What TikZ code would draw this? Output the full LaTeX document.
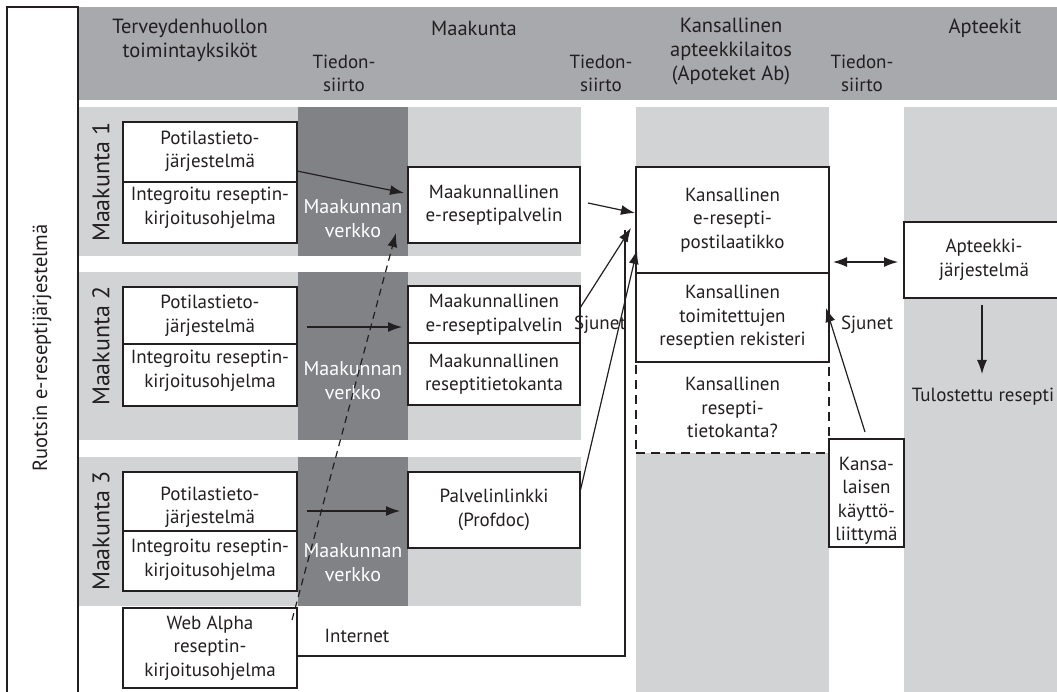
\documentclass[tikz,border=0pt]{standalone}
\usepackage{fontspec}
\setmainfont{PT Sans}
\usetikzlibrary{arrows.meta,calc}
\definecolor{hdr}{HTML}{A7A9AC}
\definecolor{lgray}{HTML}{D1D3D4}
\definecolor{dgray}{HTML}{808285}
\definecolor{ink}{HTML}{231F20}
\newcommand{\bodyf}{\fontsize{19}{23.5}\selectfont}
\newcommand{\headf}{\fontsize{20.5}{24}\selectfont}
\newcommand{\netf}{\fontsize{20}{24}\selectfont}
\newcommand{\bigrotf}{\fontsize{24}{28}\selectfont}
\newcommand{\titlef}{\fontsize{20.5}{24}\selectfont}
\begin{document}
\begin{tikzpicture}[x=1pt,y=-1pt,
  every node/.style={text=ink, inner sep=0pt, align=center, font=\bodyf},
  boxn/.style={draw=ink, fill=white, line width=1.2pt},
  dbox/.style={draw=ink, fill=white, line width=1.2pt, dash pattern=on 9pt off 6pt},
  conn/.style={draw=ink, line width=1.2pt},
  arr/.style={conn, -{Latex[length=14pt,width=10pt]}},
  dblarr/.style={conn, {Latex[length=14pt,width=10pt]}-{Latex[length=14pt,width=10pt]}},
  darr/.style={conn, dash pattern=on 7pt off 5pt, -{Latex[length=14pt,width=10pt]}},
  hdrtxt/.style={font=\headf},
  nettxt/.style={text=white, font=\netf},
  rottxt/.style={rotate=90, font=\bigrotf},
]
\useasboundingbox (0,0) rectangle (1057,692);
\begin{scope}
\clip (0,0) rectangle (1057,692);
% backgrounds
\fill[hdr] (78,7) rectangle (1057,100);
\fill[lgray] (78,107) rectangle (581,256);
\fill[lgray] (78,272) rectangle (581,440);
\fill[lgray] (78,457) rectangle (581,606);
\fill[dgray] (298,107) rectangle (408,256);
\fill[dgray] (298,272) rectangle (408,440);
\fill[dgray] (298,457) rectangle (408,606);
\fill[lgray] (636,107) rectangle (829,700);
\fill[lgray] (904,107) rectangle (1060,700);
\draw[ink, line width=1.2pt] (7,700) -- (7,7) -- (78,7) -- (78,700);

% header texts
\node[hdrtxt] (h1) at (190,40) {Terveydenhuollon\\toimintayksiköt};
\node[hdrtxt] (h2) at (474,28) {Maakunta};
\node (t1) at (344,73.5) {Tiedon-\\siirto};
\node (t2) at (601,73.5) {Tiedon-\\siirto};
\node[hdrtxt] (h3) at (731,52) {Kansallinen\\apteekkilaitos\\(Apoteket Ab)};
\node (t3) at (862,73.5) {Tiedon-\\siirto};
\node[hdrtxt] (h4) at (985,28) {Apteekit};

% left titles
\node[rotate=90, font=\titlef] (sys) at (42,348) {Ruotsin e-reseptijärjestelmä};
\node[rottxt] (m1) at (101,182) {Maakunta 1};
\node[rottxt] (m2) at (101,346) {Maakunta 2};
\node[rottxt] (m3) at (101,531) {Maakunta 3};

% network labels
\node[nettxt] (n1) at (353,219) {Maakunnan\\verkko};
\node[nettxt] (n2) at (353,381) {Maakunnan\\verkko};
\node[nettxt] (n3) at (353,563) {Maakunnan\\verkko};

% left boxes
\node[boxn, minimum width=174pt, minimum height=121pt] (pa1) at (210,182.5) {};
\draw[conn] (123,182) -- (297,182);
\node (pa1t) at (210,151.5) {Potilastieto-\\järjestelmä};
\node (pa1b) at (210,208) {Integroitu reseptin-\\kirjoitusohjelma};

\node[boxn, minimum width=174pt, minimum height=119pt] (pa2) at (210,346.5) {};
\draw[conn] (123,344) -- (297,344);
\node (pa2t) at (210,316) {Potilastieto-\\järjestelmä};
\node (pa2b) at (210,371) {Integroitu reseptin-\\kirjoitusohjelma};

\node[boxn, minimum width=174pt, minimum height=119pt] (pa3) at (210,531.5) {};
\draw[conn] (123,531) -- (297,531);
\node (pa3t) at (210,507.5) {Potilastieto-\\järjestelmä};
\node (pa3b) at (210,560) {Integroitu reseptin-\\kirjoitusohjelma};

\node[boxn, minimum width=174pt, minimum height=80pt] (web) at (210,648) {Web Alpha\\reseptin-\\kirjoitusohjelma};

% county servers
\node[boxn, minimum width=172pt, minimum height=76pt] (ms1) at (494,205) {Maakunnallinen\\e-reseptipalvelin};
\node[boxn, minimum width=172pt, minimum height=57pt] (ms2) at (494,314.5) {Maakunnallinen\\e-reseptipalvelin};
\node[boxn, minimum width=172pt, minimum height=62pt] (mdb2) at (494,374) {Maakunnallinen\\reseptitietokanta};
\node[boxn, minimum width=172pt, minimum height=76pt] (pl3) at (494,510) {Palvelinlinkki\\(Profdoc)};

% national
\node[boxn, minimum width=193pt, minimum height=106pt] (post) at (732.5,220) {Kansallinen\\e-resepti-\\postilaatikko};
\node[dbox, minimum width=193pt, minimum height=91pt] (tk) at (732.5,407.5) {Kansallinen\\resepti-\\tietokanta?};
\node[boxn, minimum width=193pt, minimum height=89pt] (rek) at (732.5,317.5) {Kansallinen\\toimitettujen\\reseptien rekisteri};

% pharmacies
\node[boxn, minimum width=160pt, minimum height=76pt, text width=150pt] (apt) at (984,260) {Apteekki-\\järjestelmä};
\node[boxn, minimum width=75pt, minimum height=108pt] (kl) at (866.5,493) {};
\node (klt) at (866.5,501) {Kansa-\\laisen\\käyttö-\\liittymä};
\node (tr) at (983,397) {Tulostettu resepti};

% labels
\node (inet) at (357,636) {Internet};
\node (sj1) at (600,325) {Sjunet};
\node (sj2) at (867,325) {Sjunet};

% connector end coordinates
\coordinate (a1s) at (297,171);
\coordinate (a1e) at (404,193);
\coordinate (a2s) at (307,327);
\coordinate (a2e) at (402,327);
\coordinate (a3s) at (307,511);
\coordinate (a3e) at (400,511);
\coordinate (ds) at (292,620);
\coordinate (de) at (396,233);
\coordinate (b1s) at (588,203);
\coordinate (b1e) at (635,213);
\coordinate (b2s) at (580,308);
\coordinate (b2e) at (631,228);
\coordinate (b3s) at (580,492);
\coordinate (b3e) at (637,250);
\coordinate (is) at (297,656);
\coordinate (ie) at (625,230);
\coordinate (dbs) at (833,262);
\coordinate (dbe) at (898,262);
\coordinate (dns) at (982,305);
\coordinate (dne) at (982,374);
\coordinate (ks) at (865,432);
\coordinate (ke) at (826,308);

\draw[arr] (a1s) -- (a1e);
\draw[arr] (a2s) -- (a2e);
\draw[arr] (a3s) -- (a3e);
\draw[darr] (ds) -- (de);
\draw[arr] (b1s) -- (b1e);
\draw[conn] (is) -- (is -| ie) -- (ie);
\draw[arr] (b2s) -- (b2e);
\draw[arr] (b3s) -- (b3e);
\draw[dblarr] (dbs) -- (dbe);
\draw[arr] (dns) -- (dne);
\draw[arr] (ks) -- (ke);
\end{scope}
\end{tikzpicture}
\end{document}
